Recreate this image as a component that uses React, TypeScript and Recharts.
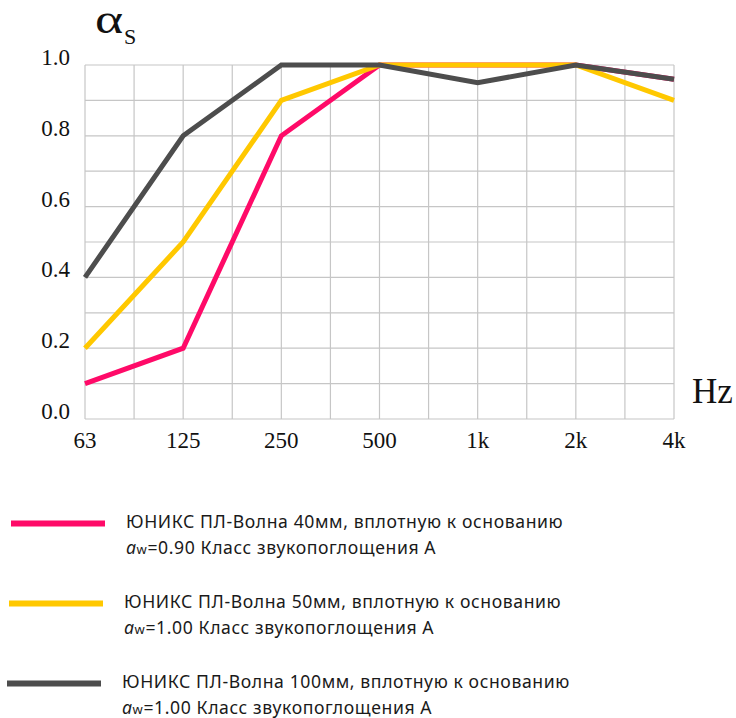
import { CartesianGrid, Line, LineChart, XAxis, YAxis } from "recharts"

const FREQUENCIES = ["63", "125", "250", "500", "1k", "2k", "4k"]
const WAVE_40 = [0.1, 0.2, 0.8, 1.0, 1.0, 1.0, 0.96]
const WAVE_50 = [0.2, 0.5, 0.9, 1.0, 1.0, 1.0, 0.9]
const WAVE_100 = [0.4, 0.8, 1.0, 1.0, 0.95, 1.0, 0.96]
const X_TICKS = [0, 0.5, 1, 1.5, 2, 2.5, 3, 3.5, 4, 4.5, 5, 5.5, 6]
const Y_TICKS = [0, 0.1, 0.2, 0.3, 0.4, 0.5, 0.6, 0.7, 0.8, 0.9, 1.0]

const SERIES = [
  { key: "w40", name: "ЮНИКС ПЛ-Волна 40мм, вплотную к основанию", aw: "0.90", color: "#ff0a68" },
  { key: "w50", name: "ЮНИКС ПЛ-Волна 50мм, вплотную к основанию", aw: "1.00", color: "#ffc800" },
  { key: "w100", name: "ЮНИКС ПЛ-Волна 100мм, вплотную к основанию", aw: "1.00", color: "#4d4d4d" },
]

const data = FREQUENCIES.map((f, i) => ({
  x: i,
  freq: f,
  w40: WAVE_40[i],
  w50: WAVE_50[i],
  w100: WAVE_100[i],
}))

const SERIF = "'Liberation Serif', 'Times New Roman', serif"
const SANS = "'Noto Sans', 'Open Sans', sans-serif"

const XTick = ({ x, y, payload }: any) => {
  if (!Number.isInteger(payload.value)) return null
  return (
    <text x={x} y={y + 29} textAnchor="middle" fontFamily={SERIF} fontSize={23} fill="#111">
      {FREQUENCIES[payload.value]}
    </text>
  )
}

const YTick = ({ x, y, payload }: any) => {
  if (Math.round(payload.value * 10) % 2 !== 0) return null
  return (
    <text x={x} y={y} textAnchor="end" fontFamily={SERIF} fontSize={23} fill="#111">
      {payload.value.toFixed(1)}
    </text>
  )
}

export default function App() {
  return (
    <div style={{ position: "absolute", top: 0, left: 0, width: 736, height: 718, background: "#fff" }}>
      <LineChart width={736} height={460} data={data} margin={{ top: 65, right: 62, bottom: 11, left: 0 }}>
        <CartesianGrid stroke="#c6c6c6" strokeWidth={1.2} />
        <XAxis
          dataKey="x"
          type="number"
          domain={[0, 6]}
          ticks={X_TICKS}
          tick={<XTick />}
          tickLine={false}
          axisLine={false}
          tickSize={0}
          tickMargin={0}
          height={30}
          interval={0}
        />
        <YAxis
          type="number"
          domain={[0, 1]}
          ticks={Y_TICKS}
          tick={<YTick />}
          tickLine={false}
          axisLine={false}
          tickSize={0}
          tickMargin={15}
          width={85}
          interval={0}
        />
        {SERIES.map((s) => (
          <Line
            key={s.key}
            dataKey={s.key}
            type="linear"
            stroke={s.color}
            strokeWidth={5}
            dot={false}
            activeDot={false}
            isAnimationActive={false}
          />
        ))}
      </LineChart>
      <svg width={736} height={718} style={{ position: "absolute", top: 0, left: 0, pointerEvents: "none" }}>
        {/* alpha is drawn a bit wider, as in the source image */}
        <text transform="translate(95,33) scale(1.28,1)" fontFamily={SERIF} fontSize={42} fill="#111">
          α
        </text>
        <text x={124} y={44} fontFamily={SERIF} fontSize={22} fill="#111">
          S
        </text>
        <text x={692} y={403} fontFamily={SERIF} fontSize={35} fill="#111">
          Hz
        </text>
        {SERIES.map((s, i) => {
          const base = 528 + i * 80
          const left = 126 - i * 2
          return (
            <g key={s.key}>
              <line x1={11 - i * 2} x2={105 - i * 2} y1={base - 4.5} y2={base - 4.5} stroke={s.color} strokeWidth={6} />
              <text x={left} y={base} fontFamily={SANS} fontSize={17.6} letterSpacing={0.6} fill="#1a1a1a">
                {s.name}
              </text>
              <text x={left} y={base + 26} fontFamily={SANS} fontSize={17.6} letterSpacing={0.6} fill="#1a1a1a">
                <tspan fontStyle="italic">a</tspan>
                <tspan fontSize={13}>w</tspan>
                <tspan>{`=${s.aw} Класс звукопоглощения А`}</tspan>
              </text>
            </g>
          )
        })}
      </svg>
    </div>
  )
}
